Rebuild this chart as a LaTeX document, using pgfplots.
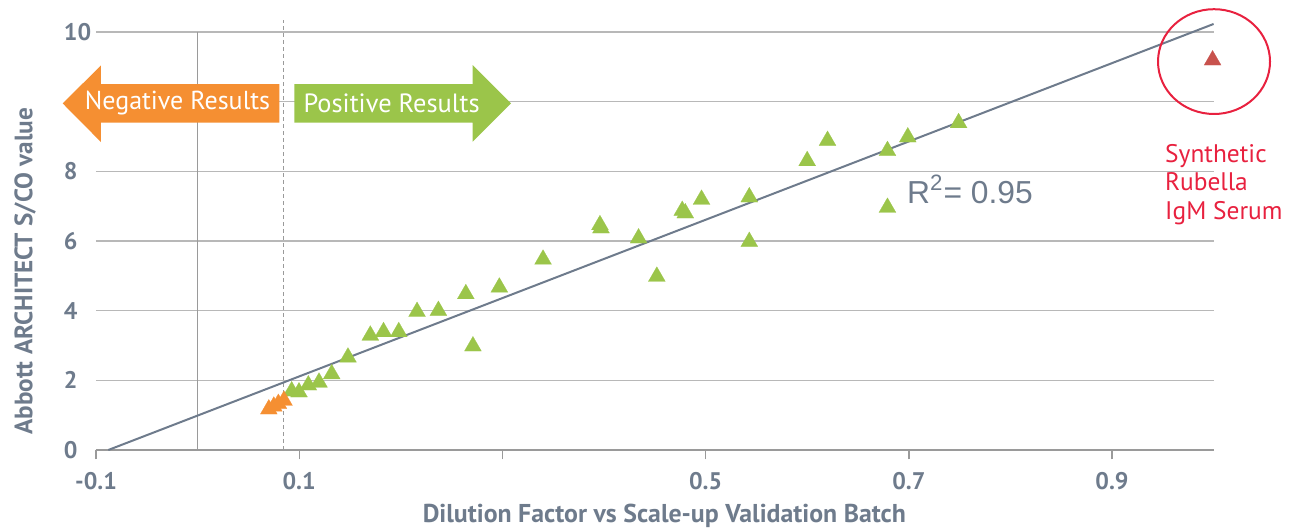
\documentclass[border=0pt]{standalone}
\usepackage{fontspec}
\setmainfont{PT Sans}
\newfontfamily\rfont{Liberation Sans}
\usepackage{pgfplots}
\pgfplotsset{compat=1.18}
\definecolor{slate}{HTML}{6E7B8C}
\definecolor{gridc}{HTML}{B8B8B8}
\definecolor{vline}{HTML}{9A9A9A}
\definecolor{grn}{HTML}{9BC54A}
\definecolor{org}{HTML}{F58F32}
\definecolor{dred}{HTML}{C8524D}
\definecolor{cred}{HTML}{E8213F}

\pgfplotstableread{
x y
0.0926 1.69
0.0998 1.66
0.109 1.86
0.1195 1.94
0.132 2.18
0.148 2.66
0.170 3.29
0.183 3.39
0.198 3.39
0.216 3.97
0.237 4.00
0.264 4.48
0.271 2.98
0.297 4.67
0.340 5.47
0.396 6.46
0.397 6.37
0.434 6.08
0.452 4.98
0.477 6.87
0.480 6.80
0.496 7.19
0.543 7.26
0.543 5.98
0.600 8.30
0.620 8.88
0.679 8.59
0.679 6.96
0.699 8.98
0.749 9.39
}\green

\pgfplotstableread{
x y
0.0701 1.17
0.0750 1.25
0.0795 1.33
0.0850 1.42
}\orange

\pgfplotstableread{
x y
0.999 11.19
}\red

\begin{document}
\begin{tikzpicture}
\useasboundingbox (-48pt,-39.5pt) rectangle (596.5pt,225pt);
\begin{axis}[
  at={(0,0)}, anchor=south west,
  scale only axis, width=558.8pt, height=215.1pt,
  xmin=-0.1, xmax=1.0, ymin=0, ymax=12.35,
  clip=false,
  axis x line=bottom, axis y line=left,
  axis line style={-},
  x axis line style={draw=vline, line width=0.7pt},
  y axis line style={draw=none},
  xtick={-0.1,0.1,0.3,0.5,0.7,0.9},
  xticklabels={-0.1,0.1,,0.5,0.7,0.9},
  ytick={0,2,4,6,8,10,12},
  yticklabels={0,2,4,6,8,,10},
  tick align=outside,
  major tick length=4.7pt,
  xtick style={draw=vline, line width=0.7pt},
  ytick style={draw=none},
  ymajorgrids,
  grid style={draw=gridc, line width=0.8pt},
  xticklabel style={anchor=north, inner sep=0pt, yshift=-6.2pt, text=slate, font=\bfseries\fontsize{12}{14}\selectfont},
  yticklabel style={anchor=west, inner sep=0pt, xshift=-11.5pt, text=slate, font=\bfseries\fontsize{12}{14}\selectfont},
]
\addplot[vline, line width=0.6pt] coordinates {(0,0) (0,12)};
\addplot[vline, line width=0.5pt, dash pattern=on 2pt off 1.5pt] coordinates {(0.0844,0) (0.0844,12.35)};

\fill[org] (axis cs:-0.1328,9.95) -- (axis cs:-0.0951,11.04) -- (axis cs:-0.0951,10.50) -- (axis cs:0.0804,10.50) -- (axis cs:0.0804,9.40) -- (axis cs:-0.0951,9.40) -- (axis cs:-0.0951,8.84) -- cycle;
\fill[grn] (axis cs:0.0952,10.50) -- (axis cs:0.2708,10.50) -- (axis cs:0.2708,11.05) -- (axis cs:0.3085,9.95) -- (axis cs:0.2708,8.85) -- (axis cs:0.2708,9.40) -- (axis cs:0.0952,9.40) -- cycle;
\node[text=white, inner sep=0pt, font=\fontsize{13}{15}\selectfont] at (axis cs:-0.0198,9.95) {Negative Results};
\node[text=white, inner sep=0pt, font=\fontsize{13.2}{15}\selectfont] at (axis cs:0.191,9.95) {Positive Results};

\addplot[slate, line width=1pt] coordinates {(-0.0879,0) (1.0,12.23)};

\addplot[only marks, color=grn, mark=triangle*, mark size=4.9pt, mark options={solid, fill=grn, draw=grn, line width=0.1pt}] table[x=x, y=y] {\green};
\addplot[only marks, color=org, mark=triangle*, mark size=4.9pt, mark options={solid, fill=org, draw=org, line width=0.1pt}] table[x=x, y=y] {\orange};
\addplot[only marks, color=dred, mark=triangle*, mark size=4.9pt, mark options={solid, fill=dred, draw=dred, line width=0.1pt}] table[x=x, y=y] {\red};

\draw[cred, line width=1pt] (axis cs:1.0004,11.15) ellipse [x radius=28pt, y radius=26.2pt];

\node[anchor=base west, inner sep=0pt, text=slate, font=\rfont\fontsize{15.9}{19}\selectfont] at (axis cs:0.698,7.08) {R\textsuperscript{2}= 0.95};

\node[anchor=base west, inner sep=0pt, text=cred, font=\fontsize{12.7}{15}\selectfont] at (axis cs:0.952,8.25) {Synthetic};
\node[anchor=base west, inner sep=0pt, text=cred, font=\fontsize{12.7}{15}\selectfont] at (axis cs:0.952,7.45) {Rubella};
\node[anchor=base west, inner sep=0pt, text=cred, font=\fontsize{12.7}{15}\selectfont] at (axis cs:0.952,6.63) {IgM Serum};

\node[anchor=base, inner sep=0pt, text=slate, font=\bfseries\fontsize{12.9}{15}\selectfont] at (axis cs:0.4594,-2.087) {Dilution Factor vs Scale-up Validation Batch};
\node[anchor=base, rotate=90, inner sep=0pt, text=slate, font=\bfseries\fontsize{12.6}{15}\selectfont] at (axis cs:-0.1627,5.13) {Abbott ARCHITECT S/CO value};
\end{axis}
\end{tikzpicture}
\end{document}
